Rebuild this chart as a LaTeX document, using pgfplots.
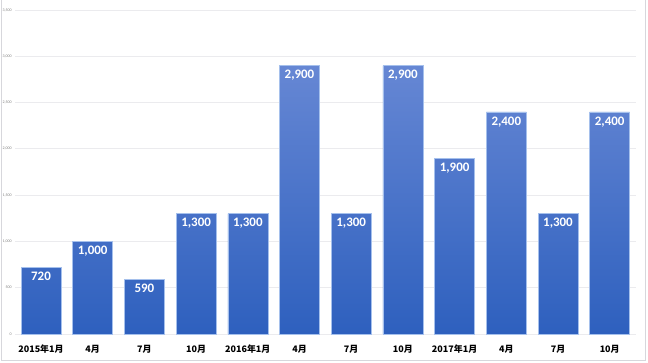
\documentclass[border=0pt]{standalone}
\usepackage{pgfplots}
\pgfplotsset{compat=1.18}
\usepackage{fontspec}
\setmainfont{Carlito}
\newfontfamily\cjk{Noto Sans CJK JP}
\definecolor{bartop}{RGB}{102,135,212}
\definecolor{barbot}{RGB}{46,96,190}
\definecolor{baredge}{RGB}{165,192,236}
\definecolor{gridc}{RGB}{235,235,238}
\definecolor{framec}{RGB}{215,215,220}
\begin{document}
\begin{tikzpicture}
\path[use as bounding box] (0,0) rectangle (648bp,363bp);
\draw[framec, line width=1bp] (1bp,363bp) -- (1bp,2.5bp) -- (645.5bp,2.5bp) -- (645.5bp,363bp);
\begin{axis}[
  at={(15.15bp,29bp)}, anchor=south west,
  scale only axis, width=620.4bp, height=324bp,
  ymin=0, ymax=3500, xmin=-0.5, xmax=11.5,
  ybar, bar width=40bp,
  axis line style={draw=none},
  tick style={draw=none},
  ytick={0,500,...,3500},
  ymajorgrids, grid style={gridc, line width=0.8bp},
  /pgf/number format/assume math mode=true,
  /pgf/number format/1000 sep={,},
  yticklabel style={font=\fontsize{4}{4}\selectfont, text=gray, xshift=0bp},
  xtick=data,
  xticklabels={2015年1月,4月,7月,10月,2016年1月,4月,7月,10月,2017年1月,4月,7月,10月},
  xticklabel style={font=\cjk\bfseries\fontsize{9}{9}\selectfont, yshift=-3bp},
  nodes near coords,
  nodes near coords style={font=\bfseries\fontsize{13}{13}\selectfont, text=white, anchor=north, inner sep=0pt, yshift=-4.5bp},
]
\addplot[draw=baredge, line width=0.6bp, top color=bartop, bottom color=barbot] coordinates {
(0,720) (1,1000) (2,590) (3,1300) (4,1300) (5,2900) (6,1300) (7,2900) (8,1900) (9,2400) (10,1300) (11,2400)};
\end{axis}
\end{tikzpicture}
\end{document}
